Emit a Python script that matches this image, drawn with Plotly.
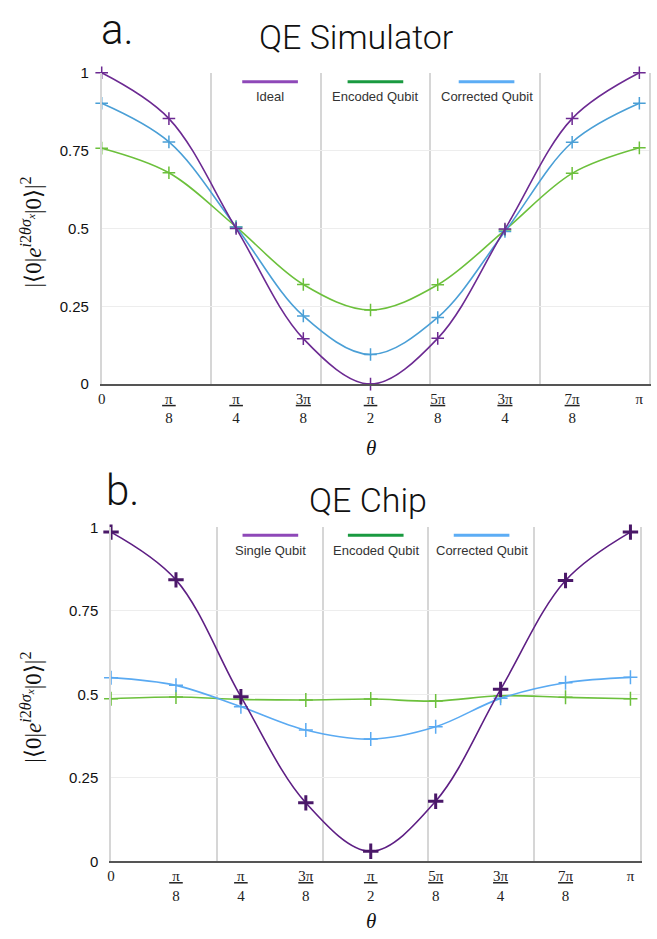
import numpy as np
import plotly.graph_objects as go

W, H = 657, 939

# ---- data ----
theta_steps = [0, 1, 2, 3, 4, 5, 6, 7, 8]          # multiples of pi/8
theta = [np.pi * s / 8 for s in theta_steps]
tick_text = [
    "0",
    "<u>\u2009π\u2009</u><br>8",
    "<u>\u2009π\u2009</u><br>4",
    "<u>3π</u><br>8",
    "<u>\u2009π\u2009</u><br>2",
    "<u>5π</u><br>8",
    "<u>3π</u><br>4",
    "<u>7π</u><br>8",
    "π",
]
y_ticks = [0, 0.25, 0.5, 0.75, 1]
y_tick_text = ["0", "0.25", "0.5", "0.75", "1"]

# Panel a: QE Simulator
sim_ideal = [1.0, 0.853, 0.5, 0.146, 0.0, 0.147, 0.498, 0.853, 1.0]
sim_encoded = [0.758, 0.679, 0.505, 0.320, 0.238, 0.319, 0.495, 0.677, 0.759]
sim_corrected = [0.902, 0.778, 0.505, 0.219, 0.095, 0.214, 0.490, 0.777, 0.902]

# Panel b: QE Chip
chip_single = [0.986, 0.843, 0.493, 0.175, 0.030, 0.180, 0.515, 0.841, 0.986]
chip_encoded = [0.487, 0.492, 0.485, 0.483, 0.486, 0.480, 0.496, 0.491, 0.487]
chip_corrected = [0.550, 0.527, 0.463, 0.393, 0.366, 0.403, 0.488, 0.535, 0.551]

legend_a = ["Ideal", "Encoded Qubit", "Corrected Qubit"]
legend_b = ["Single Qubit", "Encoded Qubit", "Corrected Qubit"]

# ---- styling ----
PURPLE = "#6c2a92"
PURPLE_B = "#5e1f84"
GREEN = "#6cc03c"
BLUE_A = "#4a9fd6"
BLUE_B = "#5aaaf2"
LEG_COLORS = ["#8e48b8", "#1a9a40", "#5cadf5"]

SERIF = "Liberation Serif"
SANS = "Liberation Sans"


def px(x):
    return x / W


def py(y):
    return 1 - y / H


fig = go.Figure()


def add_series(xa, ya, yvals, color, mcolor, msize, mwidth, name):
    fig.add_trace(go.Scatter(
        x=theta, y=yvals, xaxis=xa, yaxis=ya, name=name,
        mode="lines+markers",
        line=dict(color=color, width=1.6, shape="spline"),
        marker=dict(symbol="cross-thin", size=msize,
                    line=dict(color=mcolor, width=mwidth)),
        cliponaxis=False, showlegend=False,
    ))


add_series("x", "y", sim_encoded, GREEN, GREEN, 9, 1.5, legend_a[1])
add_series("x", "y", sim_corrected, BLUE_A, BLUE_A, 9, 1.5, legend_a[2])
add_series("x", "y", sim_ideal, PURPLE, PURPLE, 9, 1.5, legend_a[0])

add_series("x2", "y2", chip_encoded, GREEN, GREEN, 10, 1.5, legend_b[1])
add_series("x2", "y2", chip_corrected, BLUE_B, BLUE_B, 10, 1.5, legend_b[2])
add_series("x2", "y2", chip_single, PURPLE_B, "#4a1868", 11, 3, legend_b[0])

grid_vals = list(np.linspace(0, 3.2, 6))


def xaxis_cfg(dom, anchor):
    return dict(
        domain=dom, anchor=anchor, range=[0, 3.2],
        tickmode="array", tickvals=theta, ticktext=tick_text,
        tickfont=dict(family=SERIF, size=15, color="#222"),
        showgrid=False, zeroline=False,
        showline=True, linecolor="#555555", linewidth=1.5,
        ticks="",
        minor=dict(tickmode="array", tickvals=grid_vals, showgrid=True,
                   gridcolor="#d6d6d6", gridwidth=1.5, ticks=""),
        fixedrange=True,
    )


def yaxis_cfg(dom, anchor):
    return dict(
        domain=dom, anchor=anchor, range=[0, 1],
        tickmode="array", tickvals=y_ticks, ticktext=y_tick_text,
        tickfont=dict(family=SANS, size=15, color="#111"),
        showgrid=True, gridcolor="#ededed", gridwidth=1,
        zeroline=False, showline=True, linecolor="#d6d6d6",
        linewidth=1.5, mirror=True, ticks="", ticklabelstandoff=8,
        fixedrange=True,
    )


# panel geometry in page pixels
top_x = [98.3, 649.3]
top_y = [65, 382]
bot_x = [107.7, 640]
bot_y = [528, 868]

fig.update_layout(
    width=W, height=H,
    margin=dict(l=0, r=0, t=0, b=0),
    paper_bgcolor="white", plot_bgcolor="white",
    hovermode=False,
    xaxis=xaxis_cfg([px(top_x[0]), px(top_x[1])], "y"),
    yaxis=yaxis_cfg([py(top_y[1]), py(top_y[0])], "x"),
    xaxis2=xaxis_cfg([px(bot_x[0]), px(bot_x[1])], "y2"),
    yaxis2=yaxis_cfg([py(bot_y[1]), py(bot_y[0])], "x2"),
)

ann = []
shapes = []

TITLE_FONT = dict(family="Roboto", size=34, color="#111", weight=300)
LETTER_FONT = dict(family="Roboto", size=42, color="#111", weight=300)

# panel labels and titles
ann.append(dict(text="a.", x=px(96), y=py(21), xref="paper", yref="paper",
                xanchor="left", yanchor="middle", showarrow=False, font=LETTER_FONT))
ann.append(dict(text="QE Simulator", x=px(354), y=py(29), xref="paper", yref="paper",
                xanchor="center", yanchor="middle", showarrow=False, font=TITLE_FONT))
ann.append(dict(text="b.", x=px(101), y=py(490), xref="paper", yref="paper",
                xanchor="left", yanchor="middle", showarrow=False, font=LETTER_FONT))
ann.append(dict(text="QE Chip", x=px(366), y=py(500), xref="paper", yref="paper",
                xanchor="center", yanchor="middle", showarrow=False, font=TITLE_FONT))

# legends (line above label)
leg_a_cx = [267.7, 373.7, 485.5]
leg_b_cx = [268, 374, 480.5]
for names, cxs, line_y, text_y in [(legend_a, leg_a_cx, 74, 89), (legend_b, leg_b_cx, 536, 551.7)]:
    for name, cx, col in zip(names, cxs, LEG_COLORS):
        shapes.append(dict(type="line", xref="paper", yref="paper",
                           x0=px(cx - 28), x1=px(cx + 28), y0=py(line_y), y1=py(line_y),
                           line=dict(color=col, width=3)))
        ann.append(dict(text=name, x=px(cx), y=py(text_y), xref="paper", yref="paper",
                        xanchor="center", yanchor="middle", showarrow=False,
                        font=dict(family=SANS, size=13, color="#333")))

# axis titles
ylabel = ("|⟨0|<i>e</i><sup><i>i</i>2<i>θσ</i><sub><i>x</i></sub></sup>|0⟩|<sup>2</sup>")
for yc in [226.7, 710.7]:
    ann.append(dict(text=ylabel, x=px(28), y=py(yc), xref="paper", yref="paper",
                    xanchor="center", yanchor="middle", textangle=-90, showarrow=False,
                    font=dict(family=SERIF, size=23, color="#111")))
for xr, yc in [("x", 446.7), ("x2", 928.5)]:
    ann.append(dict(text="<i>θ</i>", x=theta[4], y=py(yc), xref=xr, yref="paper",
                    xanchor="center", yanchor="middle", showarrow=False,
                    font=dict(family=SERIF, size=21, color="#111")))

fig.update_layout(annotations=ann, shapes=shapes)

fig.write_html("out.html", config={"displayModeBar": False},
               post_script="document.body.style.margin='0px';")
